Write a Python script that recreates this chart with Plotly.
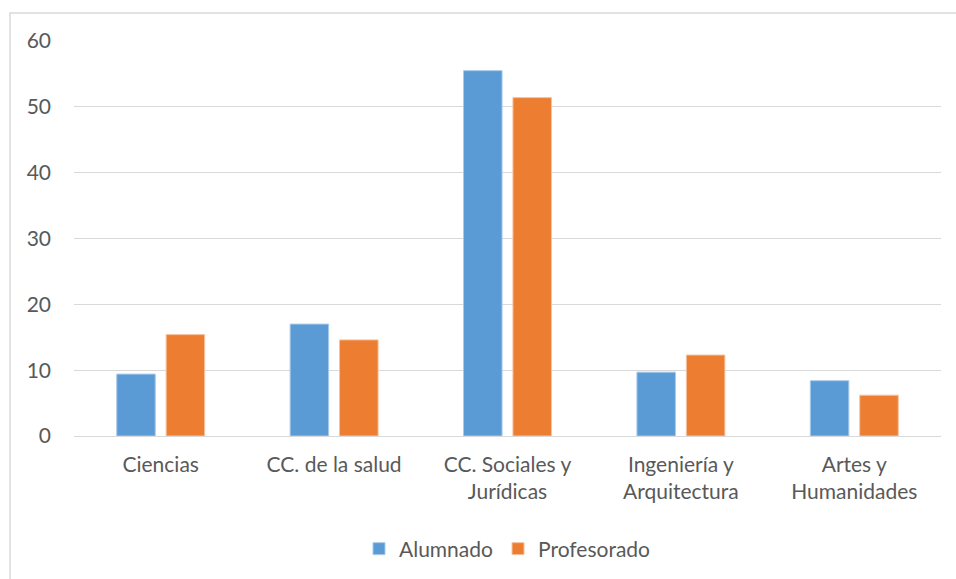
import plotly.graph_objects as go

categories = ["Ciencias", "CC. de la salud", "CC. Sociales y<br>Jurídicas",
              "Ingeniería y<br>Arquitectura", "Artes y<br>Humanidades"]
alumnado = [9.4, 17.0, 55.5, 9.7, 8.4]
profesorado = [15.4, 14.6, 51.4, 12.3, 6.2]
y_ticks = [0, 10, 20, 30, 40, 50, 60]

W, H = 956, 579
L, R, T, B = 74, 15, 41, 143
pw, ph = W - L - R, H - T - B

font = dict(family="Lato, 'Open Sans', sans-serif", size=21, color="#595959")

fig = go.Figure()
fig.add_trace(go.Bar(name="Alumnado", x=categories, y=alumnado,
                     marker=dict(color="#5B9BD5", line=dict(color="#A9CBEA", width=1))))
fig.add_trace(go.Bar(name="Profesorado", x=categories, y=profesorado,
                     marker=dict(color="#ED7D31", line=dict(color="#F6C3A0", width=1))))

fig.update_layout(
    width=W, height=H,
    margin=dict(l=L, r=R, t=T, b=B, pad=0, autoexpand=False),
    paper_bgcolor="white", plot_bgcolor="white",
    font=font,
    barmode="group", bargap=0.43, bargroupgap=0.22,
    showlegend=True,
    legend=dict(orientation="h", x=0.5, xanchor="center",
                y=(436 - 549) / ph, yanchor="middle",
                font=font, itemwidth=30, traceorder="normal"),
    xaxis=dict(showgrid=False, showline=False, zeroline=False,
               ticks="", tickfont=font, ticklabelstandoff=14),
    yaxis=dict(range=[0, 60], tickvals=y_ticks, showgrid=True,
               gridcolor="#D9D9D9", gridwidth=1, zeroline=True,
               zerolinecolor="#D9D9D9", zerolinewidth=1, showline=False,
               ticks="", tickfont=font, ticklabelstandoff=22),
    shapes=[dict(type="rect", xref="paper", yref="paper",
                 x0=(10 - L) / pw, x1=1.2, y0=-0.6, y1=(436 - 13) / ph,
                 line=dict(color="#D9D9D9", width=1.5), fillcolor="rgba(0,0,0,0)",
                 layer="below")],
)

fig.write_html("out.html")
